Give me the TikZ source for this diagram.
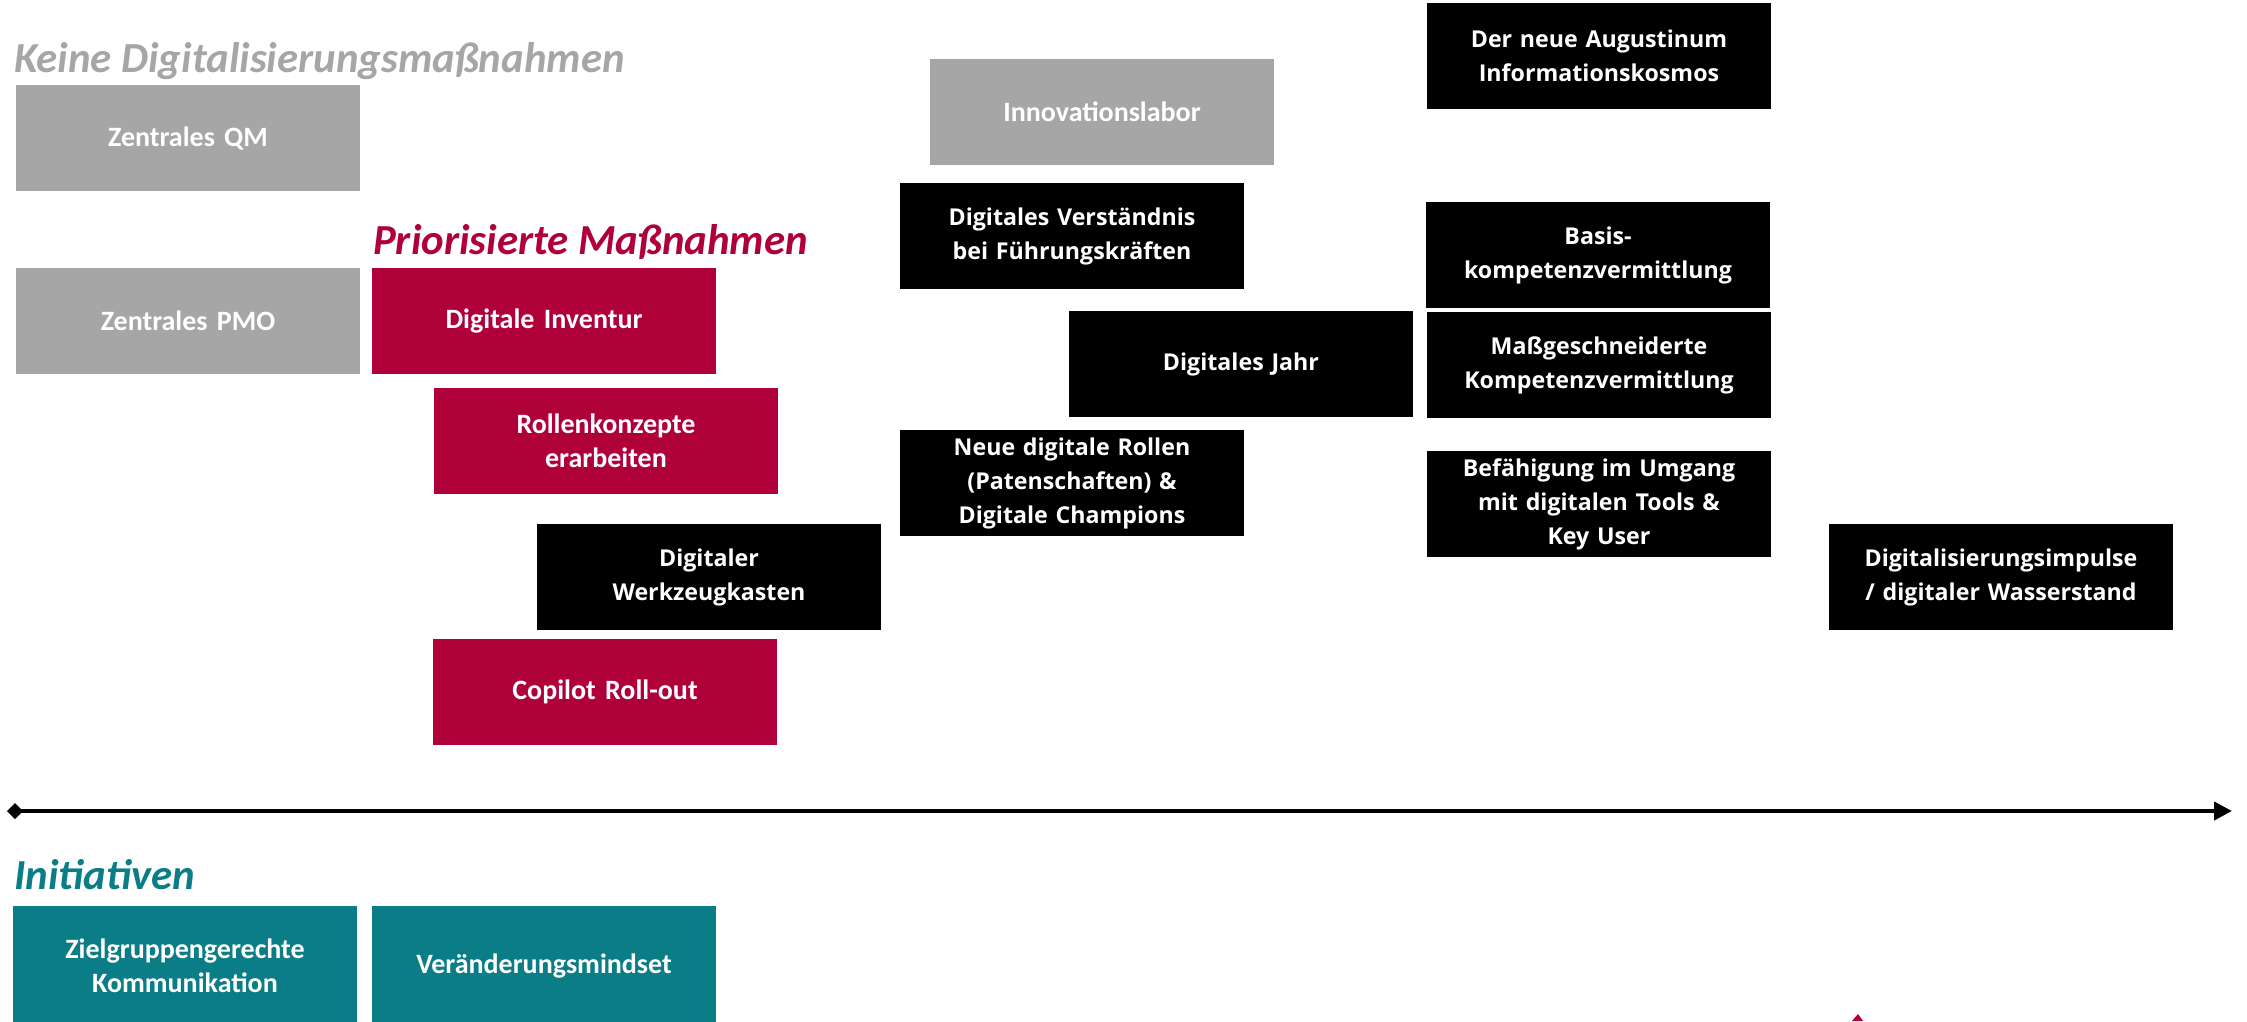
\documentclass[tikz,border=0pt]{standalone}
\usepackage{fontspec}
\setmainfont{Carlito}
\newfontfamily\boxfont{Open Sans}
\usetikzlibrary{arrows.meta}
\definecolor{cgray}{HTML}{A6A6A6}
\definecolor{cred}{HTML}{B0003A}
\definecolor{cteal}{HTML}{0A7D86}
\tikzset{
  basebox/.style={rectangle, inner sep=2pt, minimum width=344pt, minimum height=106pt, align=center, text=white, text width=330pt},
  calbox/.style={basebox, font=\fontsize{28}{34}\selectfont\bfseries},
  graybox/.style={calbox, fill=cgray},
  redbox/.style={calbox, fill=cred},
  tealbox/.style={calbox, fill=cteal, minimum height=120pt},
  blackbox/.style={basebox, fill=black, font=\boxfont\fontsize{23.2}{34}\selectfont\bfseries},
  ttl/.style={anchor=base west, inner sep=0pt, font=\fontsize{42.8}{50}\selectfont\bfseries\itshape},
}
\begin{document}
\begin{tikzpicture}[x=1pt,y=-1pt]
\clip (0,0) rectangle (2247,1021);
\fill[white] (0,0) rectangle (2247,1021);
% titles
\node[ttl, text=cgray] (t1) at (14,72) {Keine Digitalisierungsmaßnahmen};
\node[ttl, text=cred] (t2) at (373,254) {Priorisierte Maßnahmen};
\node[ttl, text=cteal] (t3) at (14,889) {Initiativen};
% gray
\node[graybox] (qm) at (188,138) {Zentrales QM};
\node[graybox] (pmo) at (188,321) {Zentrales PMO};
\node[graybox] (inno) at (1102,112) {Innovationslabor};
% red
\node[redbox] (inv) at (544,321) {Digitale Inventur};
\node[redbox] (roll) at (606,441) {Rollenkonzepte\\erarbeiten};
\node[redbox] (cop) at (605,692) {Copilot Roll-out};
% black
\node[blackbox] (werk) at (709,577) {Digitaler\\Werkzeugkasten};
\node[blackbox] (verst) at (1072,236) {Digitales Verständnis\\bei Führungskräften};
\node[blackbox] (jahr) at (1241,364) {Digitales Jahr};
\node[blackbox] (neue) at (1072,483) {Neue digitale Rollen\\(Patenschaften) \&\\Digitale Champions};
\node[blackbox] (aug) at (1599,56) {Der neue Augustinum\\Informationskosmos};
\node[blackbox] (basis) at (1598,255) {Basis-\\kompetenzvermittlung};
\node[blackbox] (mass) at (1599,365) {Maßgeschneiderte\\Kompetenzvermittlung};
\node[blackbox] (bef) at (1599,504) {Befähigung im Umgang\\mit digitalen Tools \&\\Key User};
\node[blackbox] (imp) at (2001,577) {Digitalisierungsimpulse\\/ digitaler Wasserstand};
% teal
\node[tealbox] (ziel) at (185,966) {Zielgruppengerechte\\Kommunikation};
\node[tealbox] (ver) at (544,966) {Veränderungsmindset};
% axis
\coordinate (axL) at (7,811);
\coordinate (axR) at (2232,811);
\draw[line width=4pt, {Diamond[length=16pt,width=16pt]}-{Triangle[length=18pt,width=18pt]}] (axL) -- (axR);
% fragment at bottom
\fill[cred] (1852,1021) -- (1858,1014) -- (1863,1021) -- cycle;
\end{tikzpicture}
\end{document}
